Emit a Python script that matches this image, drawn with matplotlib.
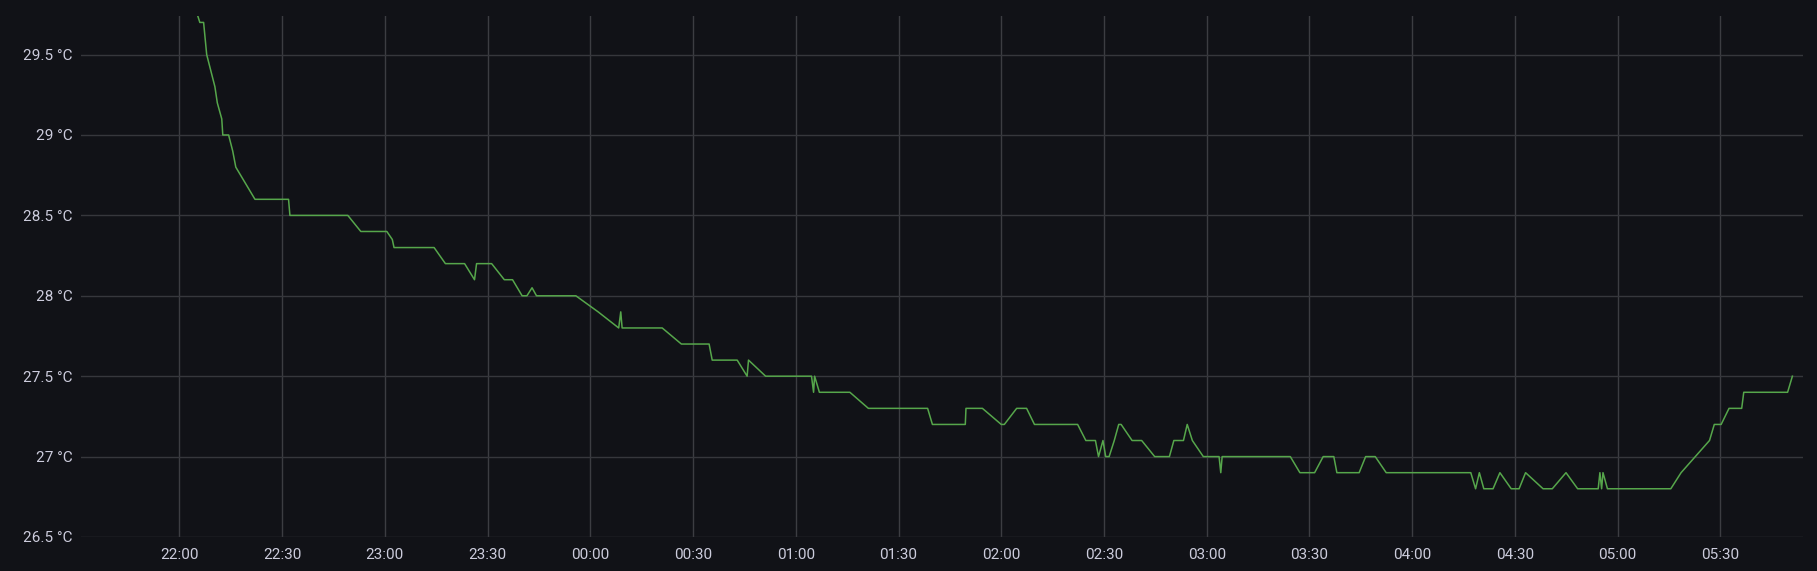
import datetime as dt
import matplotlib
matplotlib.use("Agg")
import matplotlib.pyplot as plt
import matplotlib.dates as mdates

# minutes after 22:00 and temperature readings (°C)
minutes = [4.5, 6.0, 7.1, 8.0, 10.4, 11.1, 12.4, 12.7, 14.4, 15.6, 16.5, 22.1, 31.9, 32.3,
           49.2, 53.0, 60.6, 62.2, 62.7, 74.4, 77.7, 83.3, 86.2, 86.8, 91.2, 94.9, 97.3,
           100.1, 101.5, 103.0, 104.3, 115.8, 122.3, 128.3, 128.9, 129.3, 141.0, 146.6,
           154.7, 155.6, 162.9, 165.8, 166.2, 171.2, 184.6, 185.2, 185.5, 186.9, 195.8,
           201.2, 218.5, 219.9, 229.5, 229.7, 234.5, 240.0, 240.9, 244.5, 247.4, 249.7,
           262.3, 264.7, 267.5, 268.4, 269.7, 270.5, 271.5, 273.0, 274.3, 275.0, 278.2,
           281.0, 284.8, 289.1, 290.4, 293.2, 294.3, 295.8, 299.0, 303.6, 304.1, 304.5,
           324.4, 327.2, 331.5, 334.0, 337.1, 338.0, 344.5, 346.4, 349.2, 352.4, 377.1,
           378.5, 379.6, 380.9, 383.6, 385.6, 388.9, 391.2, 393.1, 398.2, 400.9, 404.9,
           408.3, 414.3, 414.8, 415.3, 415.7, 417.0, 435.5, 438.5, 446.8, 448.2, 450.2,
           452.5, 456.2, 456.8, 469.6, 471.0]
temps = [29.80, 29.70, 29.70, 29.50, 29.30, 29.20, 29.10, 29.00, 29.00, 28.90, 28.80, 28.60,
         28.60, 28.50, 28.50, 28.40, 28.40, 28.35, 28.30, 28.30, 28.20, 28.20, 28.10, 28.20,
         28.20, 28.10, 28.10, 28.00, 28.00, 28.05, 28.00, 28.00, 27.90, 27.80, 27.90, 27.80,
         27.80, 27.70, 27.70, 27.60, 27.60, 27.50, 27.60, 27.50, 27.50, 27.40, 27.50, 27.40,
         27.40, 27.30, 27.30, 27.20, 27.20, 27.30, 27.30, 27.20, 27.20, 27.30, 27.30, 27.20,
         27.20, 27.10, 27.10, 27.00, 27.10, 27.00, 27.00, 27.10, 27.20, 27.20, 27.10, 27.10,
         27.00, 27.00, 27.10, 27.10, 27.20, 27.10, 27.00, 27.00, 26.90, 27.00, 27.00, 26.90,
         26.90, 27.00, 27.00, 26.90, 26.90, 27.00, 27.00, 26.90, 26.90, 26.80, 26.90, 26.80,
         26.80, 26.90, 26.80, 26.80, 26.90, 26.80, 26.80, 26.90, 26.80, 26.80, 26.90, 26.80,
         26.90, 26.80, 26.80, 26.90, 27.10, 27.20, 27.20, 27.30, 27.30, 27.40, 27.40, 27.50]
yticks = [26.5, 27, 27.5, 28, 28.5, 29, 29.5]

start = dt.datetime(2023, 1, 1, 22, 0)
times = [start + dt.timedelta(minutes=m) for m in minutes]

bg = '#111217'
txt = '#ccccdc'
grid = '#36373c'

plt.rcParams['font.family'] = ['Roboto', 'DejaVu Sans']

fig = plt.figure(figsize=(18.17, 5.71), dpi=100, facecolor=bg)
ax = fig.add_axes([81 / 1817, 34 / 571, 1722 / 1817, 521 / 571])
ax.set_facecolor(bg)

ax.plot(times, temps, color='#56a64b', lw=1.1)

ax.set_xlim(start - dt.timedelta(minutes=28.7), start + dt.timedelta(minutes=474.1))
ax.set_ylim(26.5, 29.74)
ax.set_yticks(yticks)
ax.set_yticklabels([f'{v:g} °C' for v in yticks])

ax.xaxis.set_major_locator(mdates.MinuteLocator(byminute=[0, 30]))
ax.xaxis.set_major_formatter(mdates.DateFormatter('%H:%M'))

ax.grid(True, axis='y', color=grid, lw=1.0)
ax.grid(True, axis='x', color='#3c3d42', lw=1.0)
ax.set_axisbelow(True)
for s in ax.spines.values():
    s.set_visible(False)
ax.tick_params(length=0, colors=txt, labelsize=11)
ax.tick_params(axis='y', pad=6)
ax.tick_params(axis='x', pad=8)

fig.savefig('out.png', dpi=100, facecolor=bg)
